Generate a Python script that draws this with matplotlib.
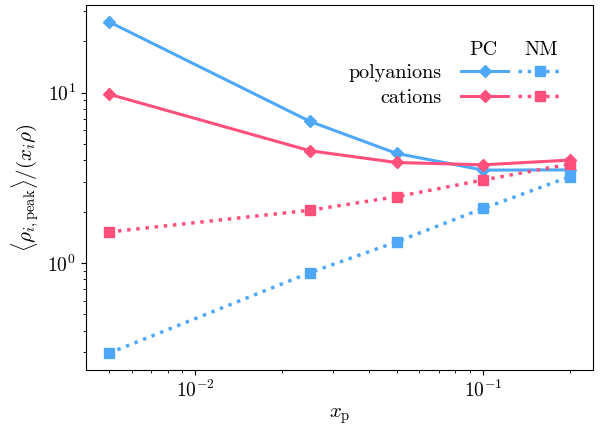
import matplotlib
matplotlib.use("Agg")
import matplotlib.pyplot as plt

plt.rcParams['mathtext.fontset'] = 'cm'
plt.rcParams['font.family'] = ['cmr10', 'DejaVu Serif']
plt.rcParams['axes.formatter.use_mathtext'] = True

x_p = [0.005, 0.025, 0.05, 0.1, 0.2]
pc_polyanions = [26.1, 6.78, 4.40, 3.51, 3.52]
pc_cations = [9.8, 4.56, 3.89, 3.77, 4.02]
nm_polyanions = [0.295, 0.877, 1.33, 2.09, 3.21]
nm_cations = [1.52, 2.04, 2.45, 3.07, 3.81]

blue = '#4FA8F7'
pink = '#FF4F7B'

fig = plt.figure(figsize=(6.0, 4.3), dpi=100)
ax = fig.add_axes([0.143, 0.140, 0.845, 0.848])

l1, = ax.plot(x_p, pc_polyanions, '-', color=blue, lw=2.2, marker='D', ms=6.5)
l2, = ax.plot(x_p, pc_cations, '-', color=pink, lw=2.2, marker='D', ms=6.5)
l3, = ax.plot(x_p, nm_polyanions, ':', color=blue, lw=2.5, marker='s', ms=7.5)
l4, = ax.plot(x_p, nm_cations, ':', color=pink, lw=2.5, marker='s', ms=7.5)

ax.set_xscale('log')
ax.set_yscale('log')
ax.set_xlabel(r'$x_\mathrm{p}$', fontsize=15)
ax.set_ylabel(r'$\langle\rho_{i,\mathrm{peak}}\rangle/(x_i\rho)$', fontsize=15)
ax.tick_params(labelsize=14)

common = dict(frameon=False, loc='center right', borderaxespad=0.0,
              borderpad=0.0, fontsize=14.5, labelspacing=0.35)

leg_pc = ax.legend([l1, l2], ['polyanions', 'cations'], markerfirst=False,
                   bbox_to_anchor=(0.8321, 0.7806), handletextpad=1.0,
                   handlelength=2.3, **common)
ax.add_artist(leg_pc)
leg_nm = ax.legend([l3, l4], ['', ''], markerfirst=True,
                   bbox_to_anchor=(0.9385, 0.7806), handletextpad=0.0,
                   handlelength=2.15, **common)

ax.text(0.7834, 0.8763, 'PC', transform=ax.transAxes,
        fontsize=14.5, ha='center', va='center')
ax.text(0.8970, 0.8763, 'NM', transform=ax.transAxes,
        fontsize=14.5, ha='center', va='center')

fig.savefig('out.png', dpi=100)
